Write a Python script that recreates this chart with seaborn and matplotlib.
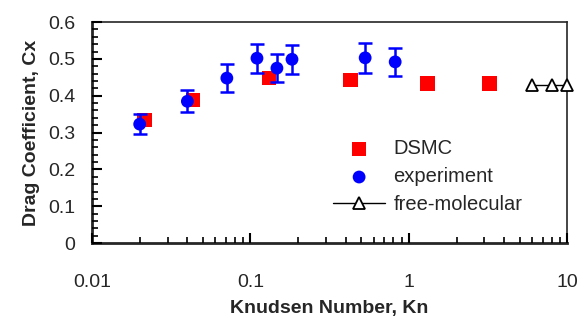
import numpy as np
import pandas as pd
import seaborn as sns
import matplotlib.pyplot as plt
from matplotlib.ticker import MultipleLocator, FixedLocator, LogLocator, FuncFormatter

# Data
dsmc_kn = [0.0215, 0.0435, 0.131, 0.43, 1.31, 3.22]
dsmc_cx = [0.334, 0.388, 0.448, 0.443, 0.434, 0.434]

exp_kn = [0.02, 0.04, 0.071, 0.11, 0.147, 0.183, 0.53, 0.82]
exp_cx = [0.323, 0.385, 0.448, 0.502, 0.475, 0.499, 0.503, 0.492]
exp_err = [0.027, 0.03, 0.038, 0.039, 0.038, 0.039, 0.041, 0.038]

fm_kn = [6.0, 8.0, 10.0]
fm_cx = [0.43, 0.43, 0.43]

x_ticks = [0.01, 0.1, 1, 10]
x_labels = ['0.01', '0.1', '1', '10']

sns.set_style('ticks')
plt.rcParams['font.family'] = ['Liberation Sans', 'DejaVu Sans']

fig = plt.figure(figsize=(5.86, 3.25), dpi=100)
ax = fig.add_axes([0.157, 0.252, 0.811, 0.68])

dsmc = pd.DataFrame({'Kn': dsmc_kn, 'Cx': dsmc_cx})
sns.scatterplot(data=dsmc, x='Kn', y='Cx', ax=ax, marker='s', s=110, color='#ff0000',
                edgecolor='none', label='DSMC', zorder=2)

ax.errorbar(exp_kn, exp_cx, yerr=exp_err, fmt='none', ecolor='#0000ff', elinewidth=1.8,
            capsize=5, capthick=1.8, zorder=3)
exp = pd.DataFrame({'Kn': exp_kn, 'Cx': exp_cx})
sns.scatterplot(data=exp, x='Kn', y='Cx', ax=ax, marker='o', s=85, color='#0000ff',
                edgecolor='none', label='experiment', zorder=4)

fm = pd.DataFrame({'Kn': fm_kn, 'Cx': fm_cx})
sns.lineplot(data=fm, x='Kn', y='Cx', ax=ax, marker='^', markersize=8.5, color='black',
             markerfacecolor='white', markeredgecolor='black', markeredgewidth=1.3,
             linewidth=1, label='free-molecular', zorder=5, clip_on=False)

ax.set_xscale('log')
ax.set_xlim(0.01, 10)
ax.set_ylim(0, 0.6)
ax.yaxis.set_major_locator(MultipleLocator(0.1))
ax.yaxis.set_minor_locator(MultipleLocator(0.02))
ax.yaxis.set_major_formatter(FuncFormatter(lambda v, p: '0' if abs(v) < 1e-9 else f'{v:.1f}'))
ax.xaxis.set_major_locator(FixedLocator(x_ticks))
ax.xaxis.set_minor_locator(LogLocator(base=10, subs=np.arange(2, 10), numticks=20))
ax.xaxis.set_major_formatter(FuncFormatter(lambda v, p: x_labels[x_ticks.index(v)] if v in x_ticks else ''))
ax.xaxis.set_minor_formatter(FuncFormatter(lambda v, p: ''))

for side in ['left', 'bottom']:
    ax.spines[side].set_linewidth(2)
for side in ['top', 'right']:
    ax.spines[side].set_linewidth(1.2)

ax.set_xlabel('Knudsen Number, Kn', fontsize=14, fontweight='bold', labelpad=7)
ax.set_ylabel('Drag Coefficient, Cx', fontsize=14, fontweight='bold', labelpad=6)

ax.legend(loc='center left', bbox_to_anchor=(0.49, 0.30), frameon=False, fontsize=14.5,
          handlelength=2.6, handletextpad=0.4, labelspacing=0.45, borderaxespad=0)

# ticks last, pointing inward
ax.set_axisbelow(False)
ax.tick_params(which='major', direction='in', color='black', length=7, width=1.5, labelsize=14)
ax.tick_params(which='minor', direction='in', color='black', length=4.5, width=1.2)
ax.tick_params(axis='y', which='major', pad=12)
ax.tick_params(axis='x', which='major', pad=22)

fig.savefig('out.png', dpi=100)
